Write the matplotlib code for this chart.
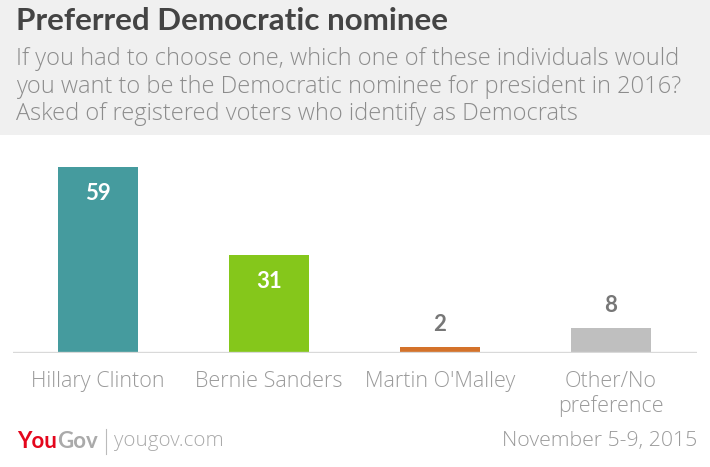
import matplotlib
matplotlib.use("Agg")
import matplotlib.pyplot as plt
from matplotlib.patches import Rectangle

categories = ["Hillary Clinton", "Bernie Sanders", "Martin O'Malley", "Other/No\npreference"]
values = [59, 31, 2, 8]
colors = ["#459B9E", "#85C71B", "#D4722A", "#BFBFBF"]

title = "Preferred Democratic nominee"
subtitle = ["If you had to choose one, which one of these individuals would",
            "you want to be the Democratic nominee for president in 2016?",
            "Asked of registered voters who identify as Democrats"]
date_text = "November 5-9, 2015"

W, H = 710, 467
fig = plt.figure(figsize=(W / 100, H / 100), dpi=100)
fig.patch.set_facecolor("white")
FONT = "Open Sans"
BFONT = "Lato"

def px(x, y):
    return x / W, 1 - y / H

fig.patches.append(Rectangle((0, 1 - 135 / H), 1, 135 / H, transform=fig.transFigure,
                             facecolor="#F0F0F0", edgecolor="none", zorder=0))

fig.text(*px(16, 21), title, fontsize=22.6, fontweight="bold", color="#444444",
         family=BFONT, va="center", ha="left")
for i, line in enumerate(subtitle):
    fig.text(*px(16, 59 + 27.5 * i), line, fontsize=17, color="#8C8C8C",
             family=FONT, fontweight="light", va="center", ha="left")

ax_left, ax_right, ax_top, ax_bottom = 13, 697, 150, 353
ax = fig.add_axes([ax_left / W, 1 - ax_bottom / H, (ax_right - ax_left) / W, (ax_bottom - ax_top) / H])
ax.set_facecolor("none")
xs = list(range(len(values)))
ax.bar(xs, values, width=0.47, color=colors, zorder=2)
ax.set_xlim(-0.497, 3.503)
ax.set_ylim(0, 203 / 3.15)
ax.axhline(0, color="#D9D9D9", linewidth=2.4, zorder=3)
for s in ax.spines.values():
    s.set_visible(False)
ax.set_yticks([])
ax.set_xticks(xs)
ax.set_xticklabels(categories, fontsize=15.5, color="#9A9A9A", family=FONT,
                   fontweight="light", linespacing=1.2, va="top")
ax.tick_params(axis="x", length=0, pad=13)

for x, v in zip(xs, values):
    if v > 20:
        ax.annotate(str(v), (x, v), xytext=(0, -19), textcoords="offset points",
                    ha="center", va="center", fontsize=16, fontweight="bold",
                    color="white", family=BFONT)
    else:
        ax.annotate(str(v), (x, v), xytext=(0, 16), textcoords="offset points",
                    ha="center", va="center", fontsize=16, fontweight="bold",
                    color="#777777", family=BFONT)

# footer
you = fig.text(*px(17, 441), "You", fontsize=16, fontweight="bold", color="#E4061C",
               family=BFONT, va="center", ha="left")
fig.canvas.draw()
bb = you.get_window_extent()
fig.text(bb.x1 / W, 1 - 441 / H, "Gov", fontsize=16, fontweight="bold", color="#AAAAAA",
         family=BFONT, va="center", ha="left")
fig.lines.append(plt.Line2D([106 / W, 106 / W], [1 - 429 / H, 1 - 454 / H],
                            transform=fig.transFigure, color="#BBBBBB", linewidth=0.8))
fig.text(*px(114, 441), "yougov.com", fontsize=14.8, color="#AAAAAA", family=FONT,
         fontweight="light", va="center", ha="left")
fig.text(*px(697, 441), date_text, fontsize=15.3, color="#9A9A9A", family=FONT,
         fontweight="light", va="center", ha="right")

fig.savefig("out.png", dpi=100)
